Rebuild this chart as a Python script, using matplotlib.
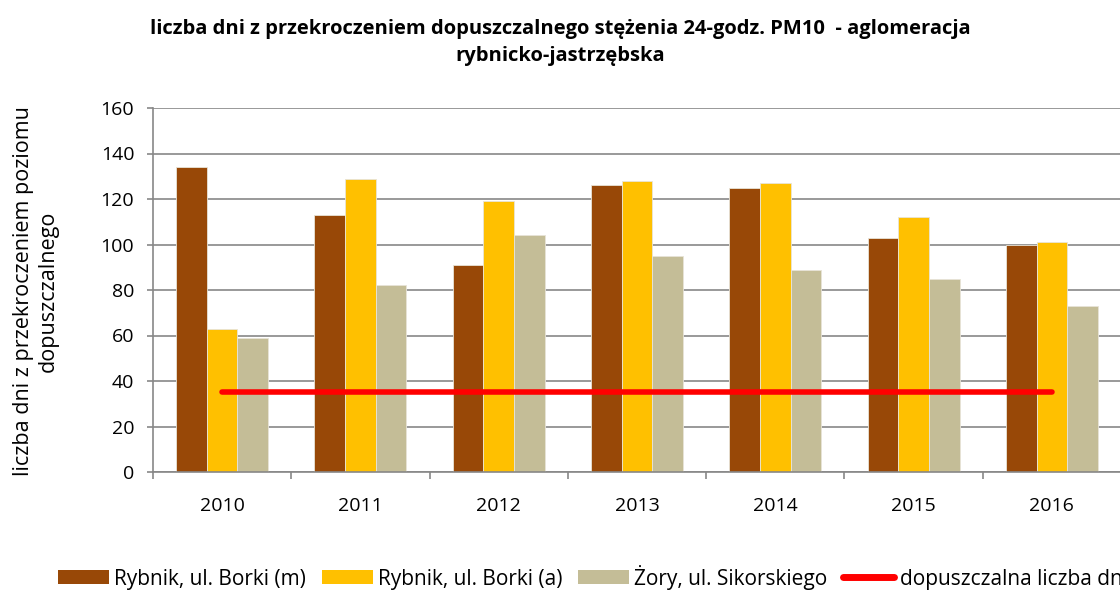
import numpy as np
import matplotlib.pyplot as plt
from matplotlib.lines import Line2D
from matplotlib.patches import Patch

years = ['2010', '2011', '2012', '2013', '2014', '2015', '2016']
borki_m = [134, 113, 91, 126, 125, 103, 100]
borki_a = [63, 129, 119, 128, 127, 112, 101]
zory = [59, 82, 104, 95, 89, 85, 73]
limit = [35, 35, 35, 35, 35, 35, 35]

series = [borki_m, borki_a, zory]
names = ['Rybnik, ul. Borki (m)', 'Rybnik, ul. Borki (a)', 'Żory, ul. Sikorskiego']
colors = ['#984807', '#FFC000', '#C4BD97']

plt.rcParams['font.family'] = ['Open Sans', 'DejaVu Sans']

fig = plt.figure(figsize=(11.2, 5.9), dpi=100)
ax = fig.add_axes([153 / 1120, 1 - 472 / 590, 968 / 1120, 364 / 590])

x = np.arange(len(years))
w = 0.222
for i, (vals, c) in enumerate(zip(series, colors)):
    ax.bar(x + (i - 1) * w, vals, w, color=c, edgecolor='#e8e4d8', linewidth=0.6, zorder=2)

ax.plot(x, limit, color='#FF0000', linewidth=4, solid_capstyle='round', zorder=3)

ax.set_xlim(-0.5, len(years) - 0.5)
ax.set_ylim(0, 160)
ax.set_yticks(range(0, 161, 20))
ax.yaxis.grid(True, color='#878787', linewidth=1.2, zorder=0)
ax.set_axisbelow(True)

# major ticks on category boundaries, labels on minor ticks at the centres
ax.set_xticks(np.arange(-0.5, len(years), 1.0))
ax.set_xticklabels([])
ax.set_xticks(x, minor=True)
ax.set_xticklabels(years, minor=True)
ax.tick_params(axis='x', which='major', length=5, width=1.2, color='#878787', direction='out')
ax.tick_params(axis='x', which='minor', length=0, pad=18, labelsize=14)
ax.tick_params(axis='y', length=4.5, width=1.2, color='#878787', labelsize=14, pad=9)

for s in ['top', 'right']:
    ax.spines[s].set_visible(False)
for s in ['left', 'bottom']:
    ax.spines[s].set_color('#878787')
    ax.spines[s].set_linewidth(1.2)

fig.text(0.5, 1 - 19 / 590, 'liczba dni z przekroczeniem dopuszczalnego stężenia 24-godz. PM10  - aglomeracja\nrybnicko-jastrzębska',
         ha='center', va='top', fontsize=14.5, fontweight='bold', linespacing=1.45)

fig.text(36 / 1120, 1 - 291 / 590, 'liczba dni z przekroczeniem poziomu\ndopuszczalnego',
         rotation=90, ha='center', va='center', fontsize=15.5, linespacing=1.25)

handles = [Patch(facecolor=c) for c in colors]
handles.append(Line2D([0], [0], color='#FF0000', linewidth=5, solid_capstyle='round'))
fig.legend(handles, names + ['dopuszczalna liczba dni'], loc='center left',
           bbox_to_anchor=(58 / 1120, 1 - 577 / 590), ncol=4, frameon=False,
           fontsize=15, handlelength=2.45, handleheight=0.65, handletextpad=0.25,
           columnspacing=0.75, borderaxespad=0, borderpad=0)

fig.savefig('out.png', dpi=100)
